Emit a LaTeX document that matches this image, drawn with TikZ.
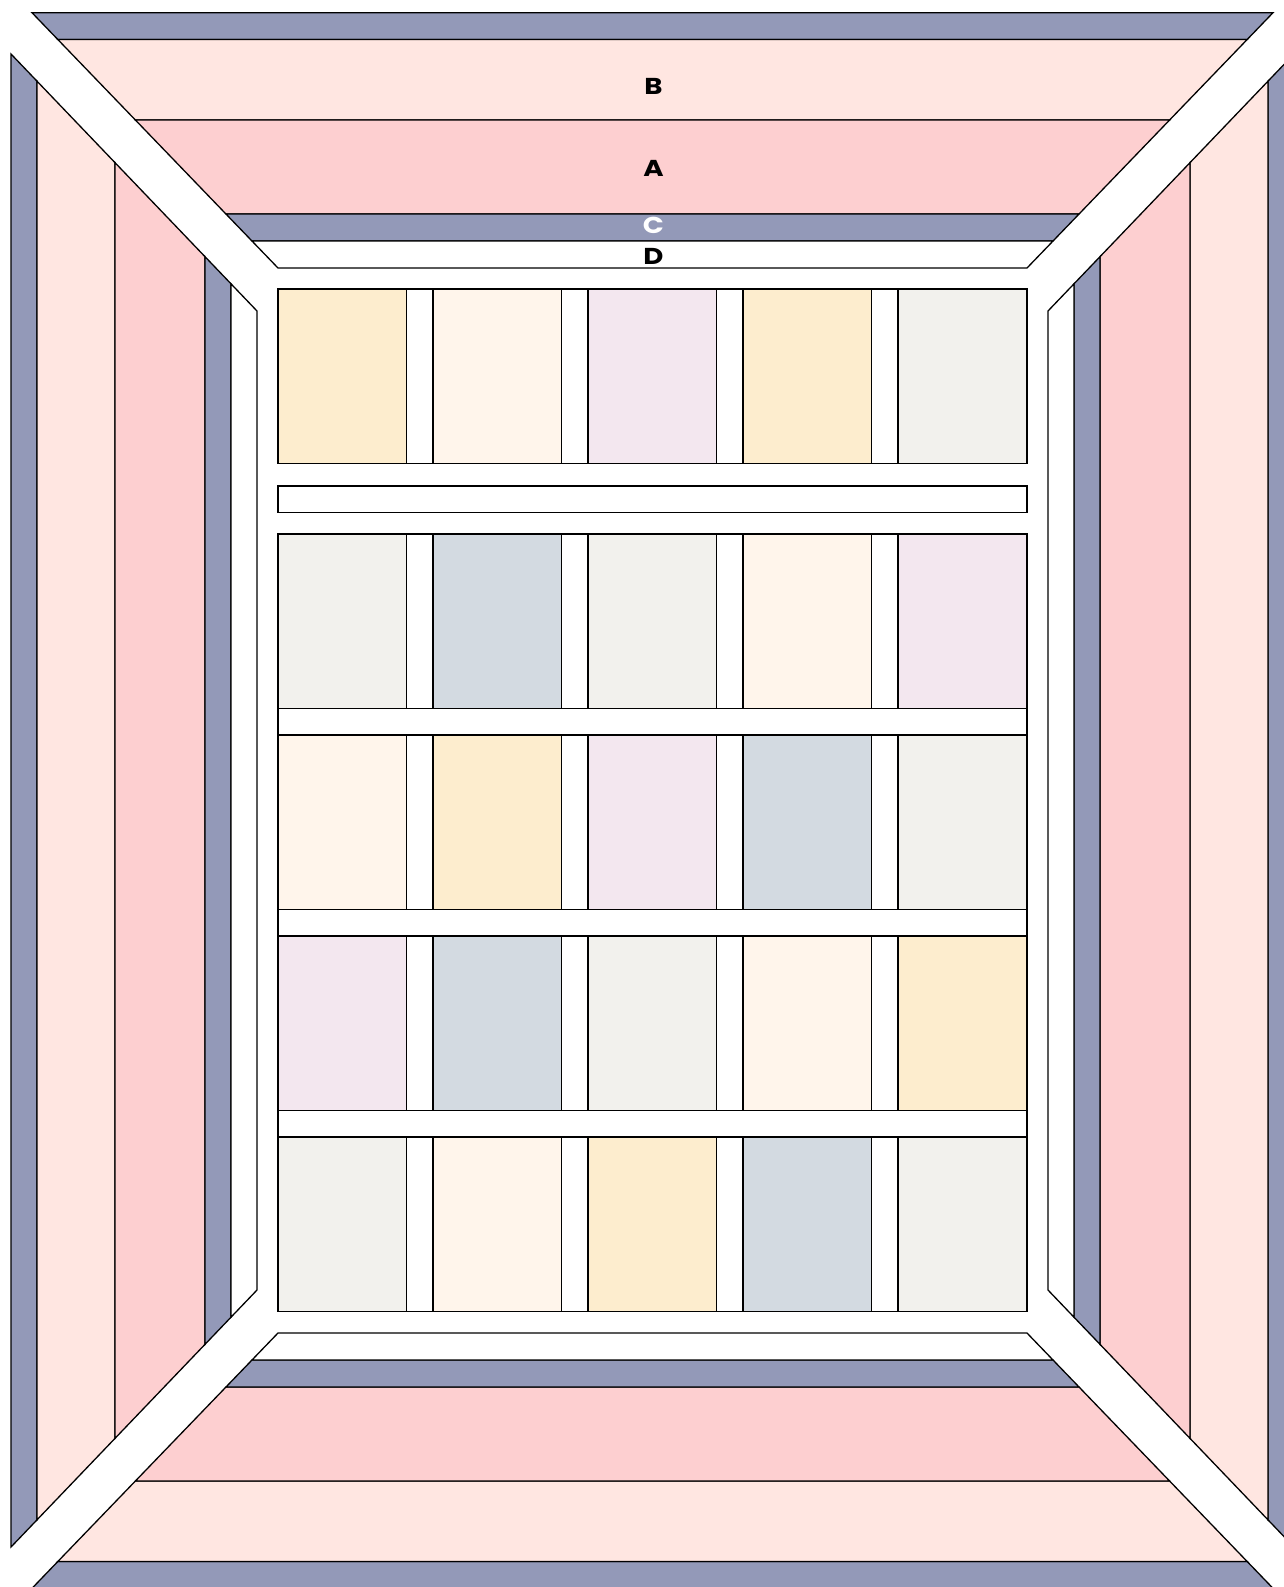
\documentclass[tikz,border=0pt]{standalone}
\usepackage{fontspec}
\newfontfamily\quiltFont{Poppins}[FakeStretch=1.2]
\definecolor{fabNavy}{HTML}{9399B8}
\definecolor{fabBlush}{HTML}{FFE6E1}
\definecolor{fabRose}{HTML}{FDCFD0}
\definecolor{fabSand}{HTML}{FDEDCE}
\definecolor{fabCream}{HTML}{FFF5EB}
\definecolor{fabLilac}{HTML}{F3E7EF}
\definecolor{fabStone}{HTML}{F2F1ED}
\definecolor{fabMist}{HTML}{D3DAE1}
\begin{document}
\begin{tikzpicture}[
    x=0.5pt, y=-0.5pt,
    quiltPiece/.style={draw=black, line width=0.65pt},
    quiltNavy/.style={quiltPiece, fill=fabNavy},
    quiltBlush/.style={quiltPiece, fill=fabBlush},
    quiltRose/.style={quiltPiece, fill=fabRose},
    quiltWhite/.style={quiltPiece, fill=white},
    quiltLabel/.style={font=\quiltFont\bfseries\fontsize{11.5}{12}\selectfont}
]
    \clip (0,0) rectangle (1284,1587);

    % 上下边框
    \foreach \ya/\yb/\bandStyle in {12.7/39.5/quiltNavy, 39.5/120/quiltBlush,
        120/214/quiltRose, 214/241/quiltNavy, 241/268/quiltWhite}{
        \draw[\bandStyle] ({19.76+0.9636*\ya},\ya) -- ({1285.24-0.9636*\ya},\ya)
            -- ({1285.24-0.9636*\yb},\yb) -- ({19.76+0.9636*\yb},\yb) -- cycle;
        \draw[\bandStyle] ({19.76+0.9636*\ya},{1601-\ya}) -- ({1285.24-0.9636*\ya},{1601-\ya})
            -- ({1285.24-0.9636*\yb},{1601-\yb}) -- ({19.76+0.9636*\yb},{1601-\yb}) -- cycle;
    }

    % 左右边框
    \foreach \xa/\xb/\bandStyle in {11/37/quiltNavy, 37/115/quiltBlush,
        115/205/quiltRose, 205/231/quiltNavy, 231/257/quiltWhite}{
        \draw[\bandStyle] (\xa,{42.5+1.0447*\xa}) -- (\xb,{42.5+1.0447*\xb})
            -- (\xb,{1558.5-1.0447*\xb}) -- (\xa,{1558.5-1.0447*\xa}) -- cycle;
        \draw[\bandStyle] ({1305-\xa},{42.5+1.0447*\xa}) -- ({1305-\xb},{42.5+1.0447*\xb})
            -- ({1305-\xb},{1558.5-1.0447*\xb}) -- ({1305-\xa},{1558.5-1.0447*\xa}) -- cycle;
    }

    % 方块
    \foreach \rowTop/\cA/\cB/\cC/\cD/\cE in {
        289/fabSand/fabCream/fabLilac/fabSand/fabStone,
        534/fabStone/fabMist/fabStone/fabCream/fabLilac,
        735/fabCream/fabSand/fabLilac/fabMist/fabStone,
        936/fabLilac/fabMist/fabStone/fabCream/fabSand,
        1137/fabStone/fabCream/fabSand/fabMist/fabStone}{
        \draw[quiltWhite] (278,\rowTop) rectangle (1027,{\rowTop+174.2});
        \foreach \fab [count=\i from 0] in {\cA,\cB,\cC,\cD,\cE}
            \draw[quiltPiece, fill=\fab] ({278+155*\i},\rowTop) rectangle +(128.6,174.2);
    }

    % 横条
    \foreach \sashTop in {486, 708.2, 909.2, 1110.2}
        \draw[quiltWhite] (278,\sashTop) rectangle (1027,{\sashTop+26.8});

    % 标注
    \node[quiltLabel] (labB) at (653.5,86.3) {B};
    \node[quiltLabel] (labA) at (653.5,168.3) {A};
    \node[quiltLabel, white] (labC) at (653.5,225.5) {C};
    \node[quiltLabel] (labD) at (653.5,256) {D};
\end{tikzpicture}
\end{document}
